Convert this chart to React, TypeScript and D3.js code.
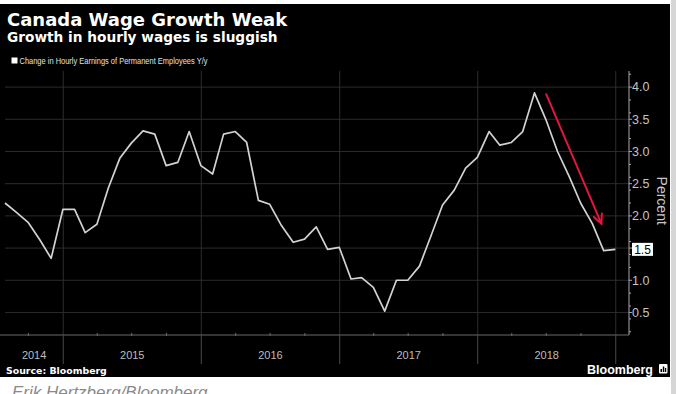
import React from 'react';
import * as d3 from 'd3';

// monthly y/y change, Jul 2014 .. Dec 2018
const firstYear = 2014;
const firstMonth = 6; // July (0-based)
const wageGrowth = [
  2.2, 2.05, 1.9, 1.63, 1.34, 2.1,
  2.1, 1.74, 1.87, 2.43, 2.9, 3.13, 3.32, 3.27, 2.78, 2.83, 3.31, 2.78,
  2.65, 3.27, 3.31, 3.14, 2.24, 2.18, 1.85, 1.59, 1.64, 1.83, 1.48, 1.51,
  1.02, 1.04, 0.89, 0.52, 1.0, 1.0, 1.22, 1.7, 2.17, 2.4, 2.74, 2.91,
  3.31, 3.1, 3.14, 3.31, 3.91, 3.5, 3.0, 2.61, 2.2, 1.88, 1.46, 1.48,
];
const yearLabels = ['2014', '2015', '2016', '2017', '2018'];
const yTickValues = [0.5, 1.0, 1.5, 2.0, 2.5, 3.0, 3.5, 4.0];
const lastLabel = '1.5';

// red annotation arrow (date, value)
const arrowFrom = { date: new Date(2018, 6, 1), value: 3.89 };
const arrowTo = { date: new Date(2018, 10, 24), value: 1.88 };

const W = 676;
const H = 394;
const plot = { left: 5, right: 629, top: 71, bottom: 335 };

const points = wageGrowth.map((v, i) => ({
  date: new Date(firstYear, firstMonth + i + 1, 0),
  value: v,
}));

export default function App() {
  const x = d3.scaleTime()
    .domain([new Date(2014, 6, 31), new Date(2019, 1, 5)])
    .range([plot.left, plot.right]);
  const y = d3.scaleLinear().domain([0.15, 4.25]).range([plot.bottom, plot.top]);

  const line = d3.line<{ date: Date; value: number }>()
    .x(d => x(d.date))
    .y(d => y(d.value));

  const yearStarts = d3.timeYear.range(new Date(2015, 0, 1), new Date(2019, 0, 2));
  const quarterTicks = d3.timeMonth.every(3)!
    .range(new Date(2014, 9, 1), new Date(2019, 0, 2))
    .filter(d => d.getMonth() !== 0);
  const minorY = y.ticks(16).filter(v => !yTickValues.includes(v));
  const fmt = d3.format('.1f');

  const last = points[points.length - 1];

  // arrow geometry
  const ax1 = x(arrowFrom.date), ay1 = y(arrowFrom.value);
  const ax2 = x(arrowTo.date), ay2 = y(arrowTo.value);
  const ang = Math.atan2(ay2 - ay1, ax2 - ax1);
  const headLen = 10;
  const wing = (s: number) => [
    ax2 - headLen * Math.cos(ang + s * 0.45),
    ay2 - headLen * Math.sin(ang + s * 0.45),
  ];
  const [w1x, w1y] = wing(1);
  const [w2x, w2y] = wing(-1);

  const numFont = '"Liberation Sans", Arial, sans-serif';
  const textFont = '"DejaVu Sans", Verdana, sans-serif';

  return (
    <div style={{ position: 'absolute', left: 0, top: 0, width: W, height: H, overflow: 'hidden', background: '#fff' }}>
      <svg width={W} height={H} style={{ display: 'block' }}>
        <rect x={0} y={4} width={670} height={373} fill="#000" />
        <rect x={671} y={0} width={5} height={H} fill="#d6d6d6" />

        {/* titles */}
        <text x={7} y={26} fill="#fff" fontFamily={textFont} fontWeight="bold" fontSize={18}>
          Canada Wage Growth Weak
        </text>
        <text x={7} y={42} fill="#fff" fontFamily={textFont} fontWeight="bold" fontSize={13.7}>
          Growth in hourly wages is sluggish
        </text>

        {/* legend */}
        <rect x={11.5} y={57.5} width={6} height={6} fill="#fff" />
        <text
          x={19.5}
          y={64}
          fill="#e0e0e0"
          fontFamily={numFont}
          fontSize={9.6}
          textLength={188}
          lengthAdjust="spacingAndGlyphs"
          style={{ WebkitFontSmoothing: 'antialiased' }}
        >
          Change in Hourly Earnings of Permanent Employees Y/y
        </text>

        {/* grid */}
        {yTickValues.map(v => (
          <line key={'g' + v} x1={plot.left} x2={plot.right} y1={y(v)} y2={y(v)} stroke="#2b2b2b" />
        ))}
        {yearStarts.map(d => (
          <line key={'v' + d.getFullYear()} x1={x(d)} x2={x(d)} y1={plot.top} y2={plot.bottom} stroke="#2e2e2e" />
        ))}

        {/* x axis */}
        <line x1={0} x2={plot.right} y1={plot.bottom} y2={plot.bottom} stroke="#6a6a6a" />
        {quarterTicks.map(d => (
          <line key={'q' + d.getTime()} x1={x(d)} x2={x(d)} y1={plot.bottom - 2} y2={plot.bottom + 1} stroke="#6a6a6a" />
        ))}
        {yearStarts.map(d => (
          <line key={'s' + d.getFullYear()} x1={x(d)} x2={x(d)} y1={plot.bottom} y2={364} stroke="#4a4a4a" />
        ))}
        {yearLabels.map((label, i) => {
          const a = Math.max(x(new Date(+label, 0, 1)), plot.left);
          const b = x(yearStarts[i]);
          return (
            <text key={label} x={(a + b) / 2} y={359} textAnchor="middle" fill="#bdbdbd" fontFamily={numFont} fontSize={11}>
              {label}
            </text>
          );
        })}

        {/* y axis */}
        <line x1={plot.right} x2={plot.right} y1={plot.top} y2={plot.bottom} stroke="#a8a8a8" />
        {minorY.map(v => (
          <line key={'m' + v} x1={plot.right} x2={plot.right + 2} y1={y(v)} y2={y(v)} stroke="#a8a8a8" />
        ))}
        {yTickValues.map(v => (
          <g key={'t' + v} transform={`translate(${plot.right},${y(v)})`}>
            <line x1={0} x2={3} stroke="#a8a8a8" />
            {fmt(v) !== lastLabel && (
              <text x={3} dy="0.35em" fill="#c4c4c4" fontFamily={numFont} fontSize={12.5}>
                {fmt(v)}
              </text>
            )}
          </g>
        ))}
        <text
          transform={`translate(657,${y(2.5) + 17}) rotate(90)`}
          textAnchor="middle"
          fill="#c8c8c8"
          fontFamily={numFont}
          fontSize={14}
        >
          Percent
        </text>

        {/* series */}
        <path d={line(points) ?? ''} fill="none" stroke="#d2d2d2" strokeWidth={1.7} strokeLinejoin="round" />

        {/* last value box */}
        <g transform={`translate(${plot.right + 3},${y(last.value)})`}>
          <rect x={0} y={-6.5} width={21} height={13} fill="#fff" />
          <text x={10.5} dy="0.36em" textAnchor="middle" fill="#000" fontFamily={numFont} fontSize={12}>
            {fmt(last.value)}
          </text>
        </g>

        {/* annotation arrow */}
        <g stroke="#e3173e" strokeWidth={2} fill="none" strokeLinecap="round">
          <line x1={ax1} y1={ay1} x2={ax2} y2={ay2} />
          <polyline points={`${w1x},${w1y} ${ax2},${ay2} ${w2x},${w2y}`} />
        </g>

        {/* footer */}
        <text x={6} y={374} fill="#fff" fontFamily={textFont} fontWeight="bold" fontSize={9.4}>
          Source: Bloomberg
        </text>
        <text x={587} y={374} fill="#fff" fontFamily={numFont} fontWeight="bold" fontSize={12.5}>
          Bloomberg
        </text>
        <rect x={659} y={364} width={8.5} height={9.5} rx={1} fill="#fff" />
        <rect x={660.5} y={369} width={1.5} height={3} fill="#000" />
        <rect x={662.8} y={366.5} width={1.5} height={5.5} fill="#000" />
        <rect x={665} y={368} width={1.2} height={4} fill="#000" />

        <text x={12} y={398} fill="#8a8a8a" fontFamily={numFont} fontStyle="italic" fontSize={17}>
          Erik Hertzberg/Bloomberg
        </text>
      </svg>
    </div>
  );
}
